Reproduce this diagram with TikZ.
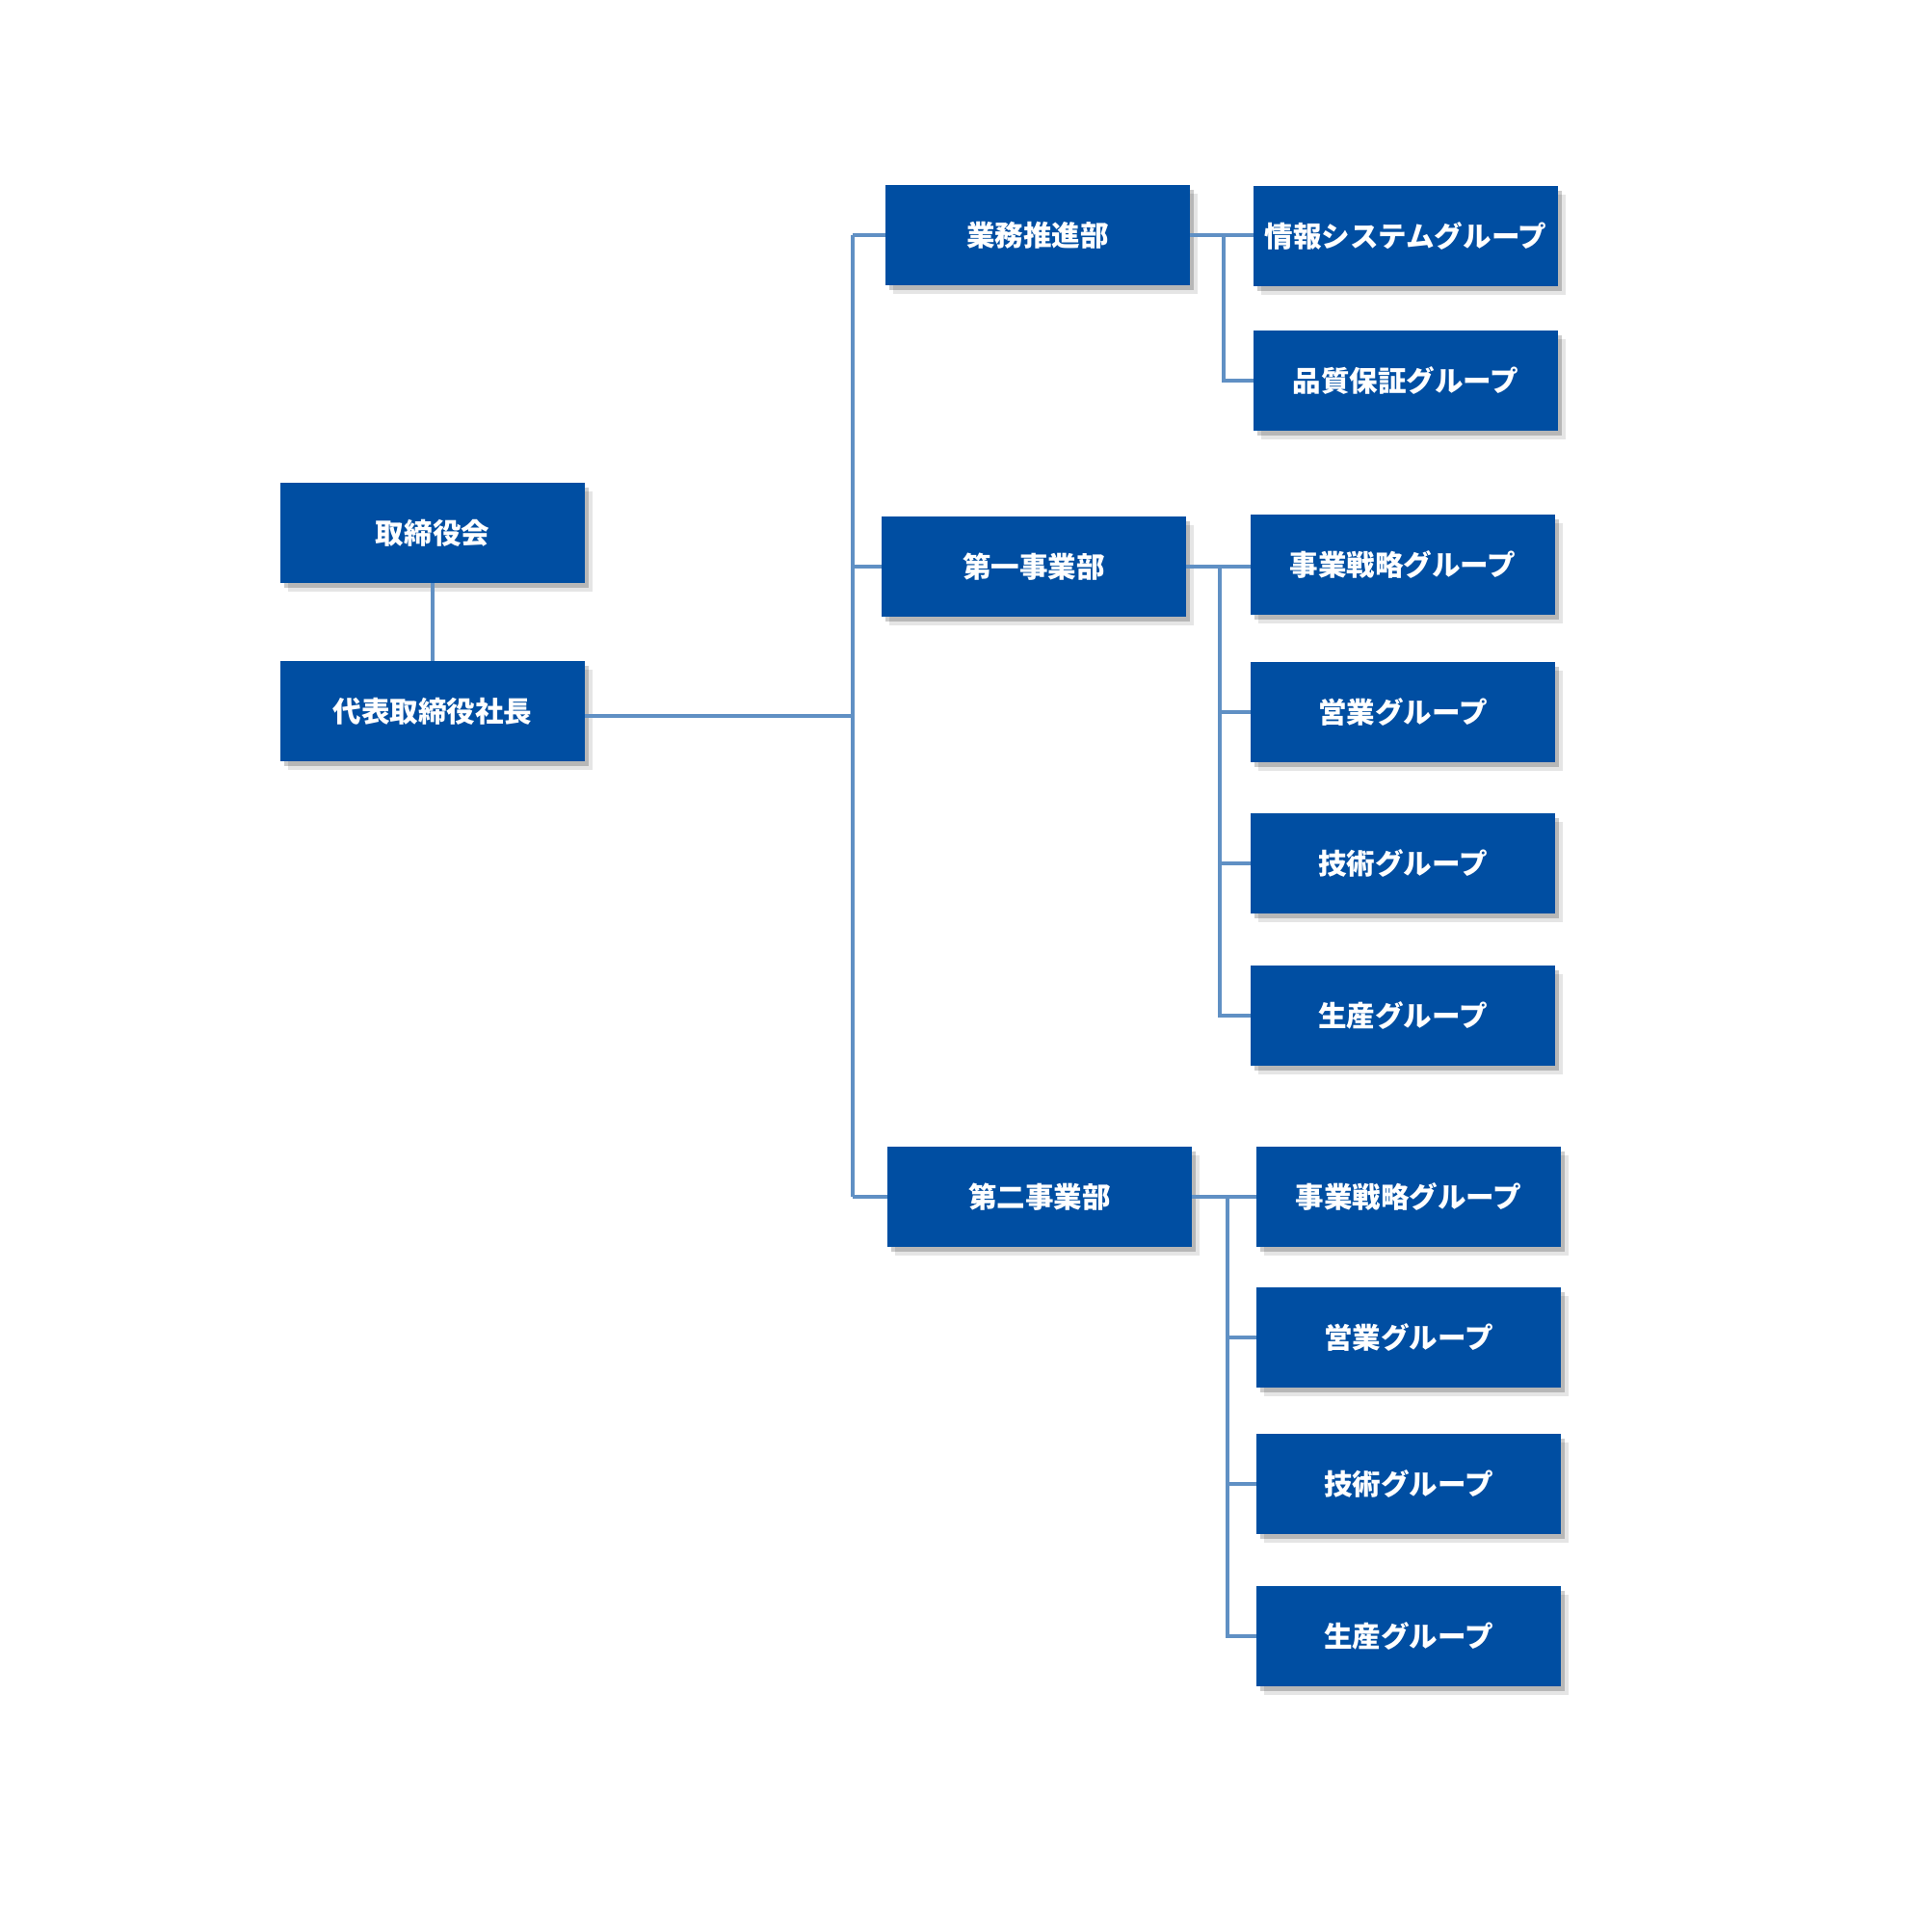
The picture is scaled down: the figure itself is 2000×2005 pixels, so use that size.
\documentclass[tikz,border=0pt]{standalone}
\usepackage{fontspec}
\newfontfamily\jpfont{Noto Sans CJK JP}
\usetikzlibrary{shadows}
\definecolor{orgblue}{HTML}{004EA2}
\definecolor{orgline}{HTML}{6090C4}
\tikzset{
	orgbox/.style={fill=orgblue, minimum width=3.15cm, minimum height=1.03cm,
		inner sep=0pt, text=white, font=\jpfont\bfseries\fontsize{8.4}{10}\selectfont,
		general shadow={fill=black, opacity=0.10, shadow xshift=0.08cm, shadow yshift=-0.09cm},
		general shadow={fill=black, opacity=0.20, shadow xshift=0.04cm, shadow yshift=-0.05cm}},
	orgwire/.style={draw=orgline, line width=1.2pt}
}

\begin{document}
\begin{tikzpicture}[x=0.01cm, y=-0.01cm]
	\useasboundingbox (0,0) rectangle (2000,2005);
	% top
	\node[orgbox] (board) at (449,553) {取締役会};
	\node[orgbox] (pres) at (449,738) {代表取締役社長};
	% departments
	\node[orgbox] (gyomu) at (1077,244) {業務推進部};
	\node[orgbox] (daiichi) at (1073,588) {第一事業部};
	\node[orgbox] (daini) at (1079,1242) {第二事業部};
	% groups
	\node[orgbox] (joho) at (1459,245) {情報システムグループ};
	\node[orgbox] (hinshitsu) at (1459,395) {品質保証グループ};
	\node[orgbox] (senryakuA) at (1456,586) {事業戦略グループ};
	\node[orgbox] (eigyoA) at (1456,739) {営業グループ};
	\node[orgbox] (gijutsuA) at (1456,896) {技術グループ};
	\node[orgbox] (seisanA) at (1456,1054) {生産グループ};
	\node[orgbox] (senryakuB) at (1462,1242) {事業戦略グループ};
	\node[orgbox] (eigyoB) at (1462,1388) {営業グループ};
	\node[orgbox] (gijutsuB) at (1462,1540) {技術グループ};
	\node[orgbox] (seisanB) at (1462,1698) {生産グループ};
	% wiring
	\coordinate (trunk) at (885,0);
	\coordinate (brA) at (1270,0);
	\coordinate (brB) at (1266,0);
	\coordinate (brC) at (1274,0);
	\draw[orgwire] (board) -- (pres);
	\draw[orgwire] ([yshift=-0.05cm]pres.east) -- ([yshift=-0.05cm]pres.east -| trunk);
	\draw[orgwire] (gyomu.west -| trunk) -- (daini.west -| trunk);
	\foreach \d in {gyomu, daiichi, daini}
		\draw[orgwire] (\d.west -| trunk) -- (\d.west);
	\draw[orgwire] (gyomu.east) -- (gyomu.east -| joho.west);
	\draw[orgwire] (gyomu.east -| brA) |- (hinshitsu.west);
	\draw[orgwire] (daiichi.east) -- (daiichi.east -| senryakuA.west);
	\draw[orgwire] (daiichi.east -| brB) |- (seisanA.west);
	\foreach \g in {eigyoA, gijutsuA}
		\draw[orgwire] (\g.west -| brB) -- (\g.west);
	\draw[orgwire] (daini.east) -- (senryakuB.west);
	\draw[orgwire] (daini.east -| brC) |- (seisanB.west);
	\foreach \g in {eigyoB, gijutsuB}
		\draw[orgwire] (\g.west -| brC) -- (\g.west);
\end{tikzpicture}
\end{document}
